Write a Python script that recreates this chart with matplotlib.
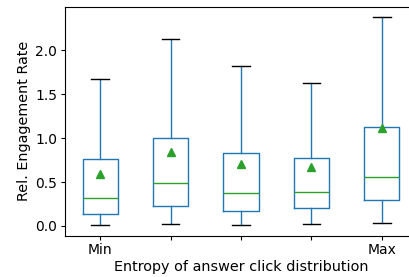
import matplotlib
matplotlib.use("Agg")
import matplotlib.pyplot as plt

# box stats, one entry per entropy bin
labels = ["Min", "", "", "", "Max"]
whislo = [0.008, 0.026, 0.015, 0.019, 0.034]
q1 = [0.137, 0.231, 0.171, 0.201, 0.296]
med = [0.319, 0.493, 0.372, 0.387, 0.555]
q3 = [0.763, 0.999, 0.835, 0.778, 1.131]
whishi = [1.674, 2.126, 1.815, 1.629, 2.377]
means = [0.59, 0.846, 0.706, 0.672, 1.113]

stats = []
for i in range(len(labels)):
    stats.append({"label": labels[i], "whislo": whislo[i], "q1": q1[i],
                  "med": med[i], "q3": q3[i], "whishi": whishi[i],
                  "mean": means[i], "fliers": []})

fig = plt.figure(figsize=(4.09, 2.77), dpi=100)
# the plot area runs past the right edge of the picture
ax = fig.add_axes([65 / 409, 1 - 235.7 / 277, 352 / 409, (235.7 - 6.7) / 277])

ax.bxp(stats, showmeans=True, showfliers=False, widths=0.5,
       boxprops=dict(color="C0"),
       whiskerprops=dict(color="C0"),
       capprops=dict(color="k"),
       medianprops=dict(color="C2"),
       meanprops=dict(marker="^", markerfacecolor="C2", markeredgecolor="C2"))

ax.set_xlim(0.5, 5.5)
ax.set_yticks([0.0, 0.5, 1.0, 1.5, 2.0])
ax.spines["right"].set_visible(False)
ax.tick_params(labelsize=10, length=3.0, pad=2.5)
ax.set_xlabel("Entropy of answer click distribution", fontsize=10.4, labelpad=2)
ax.set_ylabel("Rel. Engagement Rate", fontsize=10.4, labelpad=3)

fig.savefig("out.png", dpi=100)
